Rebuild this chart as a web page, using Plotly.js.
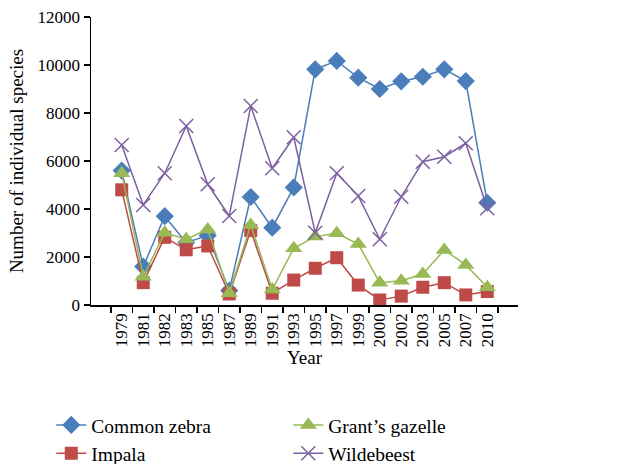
<!DOCTYPE html>
<html>
<head>
<meta charset="utf-8">
<script src="https://cdn.plot.ly/plotly-3.0.1.min.js"></script>
<style>html,body{margin:0;padding:0;background:#fff;}#chart{width:640px;height:464px;}</style>
</head>
<body>
<div id="chart"></div>
<script>
const years = ['1979','1981','1982','1983','1985','1987','1989','1991','1993','1995','1997','1999','2000','2002','2003','2005','2007','2010'];
const commonZebra = [5600,1600,3700,2600,2900,600,4500,3220,4900,9820,10170,9470,9000,9320,9510,9820,9330,4260];
const impala = [4800,930,2820,2300,2460,460,3100,490,1040,1530,1970,830,210,370,740,930,420,560];
const grantsGazelle = [5490,1180,3010,2740,3150,490,3330,650,2360,2850,2990,2540,930,1010,1290,2290,1670,740];
const wildebeest = [6670,4170,5490,7460,5030,3710,8290,5700,6990,3010,5490,4540,2740,4510,5970,6180,6740,4030];

const font = 'Liberation Serif, Times New Roman, serif';
function tr(name, y, color, symbol, size, rank) {
  const open = symbol.indexOf('open') >= 0;
  return {
    type: 'scatter', mode: 'lines+markers', name: name, x: years, y: y,
    legendrank: rank,
    line: {color: color, width: 1.5},
    marker: open ? {symbol: symbol, size: size, color: color, line: {color: color, width: 1.5}}
                 : {symbol: symbol, size: size, color: color}
  };
}
const data = [
  tr('Common zebra', commonZebra, '#4A7EBB', 'diamond', 14, 1),
  tr('Impala', impala, '#BE4B48', 'square', 13, 3),
  tr('Grant\u2019s gazelle', grantsGazelle, '#98B954', 'triangle-up', 15, 2),
  tr('Wildebeest', wildebeest, '#7D60A0', 'x-thin-open', 14, 4)
];
const layout = {
  width: 640, height: 464,
  margin: {l: 91, r: 122, t: 17, b: 159, autoexpand: false},
  paper_bgcolor: '#fff', plot_bgcolor: '#fff',
  font: {family: font, size: 17, color: '#000'},
  showlegend: true,
  legend: {orientation: 'h', x: -0.093, xanchor: 'left', y: -0.35, yanchor: 'top',
           entrywidth: 192, traceorder: 'normal', font: {family: font, size: 19.5, color: '#000'},
           tracegroupgap: 0, itemwidth: 30},
  xaxis: {
    type: 'category', showline: true, linecolor: '#000', linewidth: 1.5,
    tickmode: 'linear', tick0: 0, dtick: 1,
    ticks: 'outside', tickson: 'boundaries', ticklen: 6, tickcolor: '#000', tickwidth: 1.5,
    tickangle: -90, showgrid: false, zeroline: false,
    tickfont: {family: font, size: 17, color: '#000'},
    title: {text: 'Year', font: {family: font, size: 19, color: '#000'}, standoff: 4}
  },
  yaxis: {
    range: [0, 12000], dtick: 2000, tickformat: 'd', showline: true, linecolor: '#000', linewidth: 1.5,
    ticks: 'outside', ticklen: 6, tickcolor: '#000', tickwidth: 1.5,
    showgrid: false, zeroline: false,
    tickfont: {family: font, size: 17, color: '#000'},
    title: {text: 'Number of individual species', font: {family: font, size: 19, color: '#000'}, standoff: 9}
  }
};
Plotly.newPlot('chart', data, layout, {displayModeBar: false, staticPlot: true});
</script>
</body>
</html>
